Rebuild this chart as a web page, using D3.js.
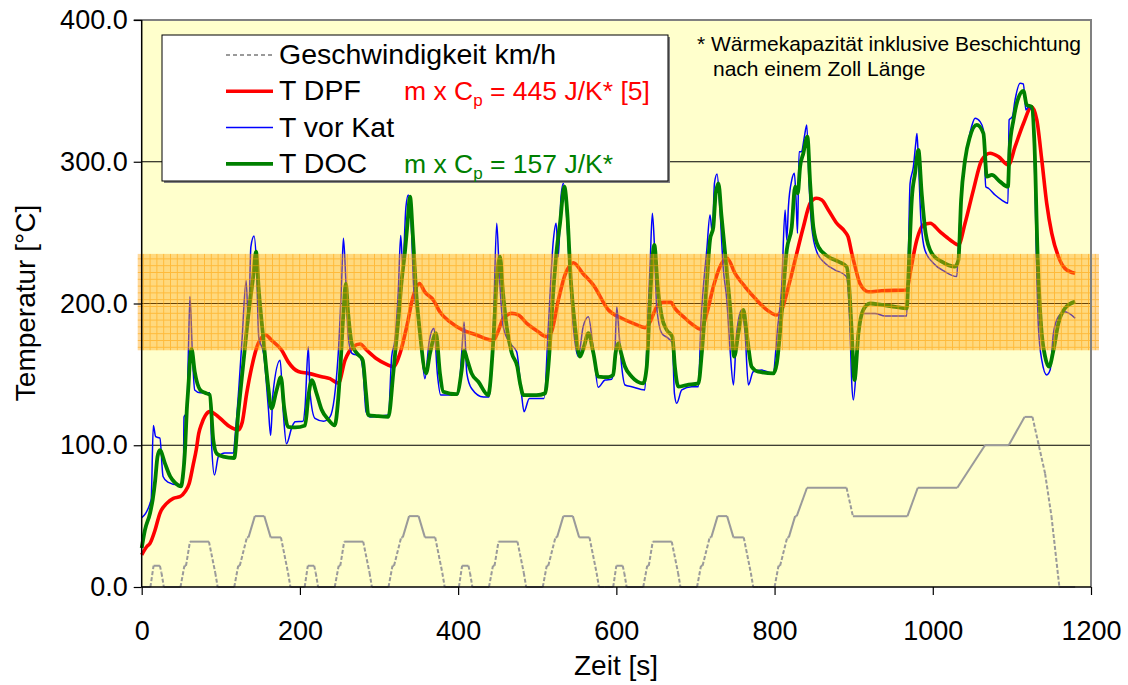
<!DOCTYPE html>
<html>
<head>
<meta charset="utf-8">
<script src="https://cdn.jsdelivr.net/npm/d3@7"></script>
<style>
  body { margin: 0; background: #fff; }
  svg text { font-family: "Liberation Sans", Arial, sans-serif; }
</style>
</head>
<body>
<svg id="chart" width="1128" height="685"></svg>
<script>
// NEDC speed profile (breakpoints) km/h
const speedTime = [0,11,15,23,25,28,49,54,56,61,85,93,96,117,122,124,133,135,143,155,163,176,185,188,
  195,206,210,218,220,223,244,249,251,256,280,288,291,312,317,319,328,330,338,350,358,371,380,383,
  390,401,405,413,415,418,439,444,446,451,475,483,486,507,512,514,523,525,533,545,553,566,575,578,
  585,596,600,608,610,613,634,639,641,646,670,678,681,702,707,709,718,720,728,740,748,761,770,773,
  780,800,805,807,816,818,826,828,841,891,899,968,981,1031,1066,1096,1116,1126,1142,1150,1160,1180];
const speedKmh = [0,0,15,15,10,0,0,15,15,32,32,10,0,0,15,15,35,35,50,50,35,35,10,0,
  0,0,15,15,10,0,0,15,15,32,32,10,0,0,15,15,35,35,50,50,35,35,10,0,
  0,0,15,15,10,0,0,15,15,32,32,10,0,0,15,15,35,35,50,50,35,35,10,0,
  0,0,15,15,10,0,0,15,15,32,32,10,0,0,15,15,35,35,50,50,35,35,10,0,
  0,0,15,15,35,35,50,50,70,70,50,50,70,70,100,100,120,120,80,50,0,0];

// T DPF [s, °C]
const tDPF = [[0,22.6],[6.3,28.4],[10.5,30.8],[16.8,40],[23,52],[31.6,59],[40,62.6],[48.4,63.7],[54.7,67.2],[60,73],[65,86],[69,97],[72,108],[76,115.5],[80,120.5],[86,123.7],[95,121],[103,117],[111.6,113],[122,110.8],[127,116],[132.7,136.6],[139,155],[147.4,172],[156.7,177.8],[164.3,174],[177,167],[185,159],[198,152],[210.6,150.7],[227.5,148.4],[238,147],[248.5,143.7],[257,160],[267.5,169.5],[276,171.4],[284.5,167],[297,161],[309.7,157],[318,155.4],[326.5,164.8],[335,183.6],[343,204.8],[351,214],[358,208],[368.6,202.5],[377,194],[389.8,187],[406.6,181],[423.5,177.8],[436,175],[444.5,174],[451,181],[457,189.5],[467.8,193],[476,192],[486.7,186],[499,181],[512,176.6],[518,180],[526.7,202.5],[535,220],[545.6,228.8],[558,221],[571,213],[590,195.4],[606.8,189.6],[623.6,185.5],[636.3,183],[642.6,187],[651,197.7],[659.4,200.8],[669,200.8],[674,196.6],[684.7,190.7],[695.3,185.5],[707,181.8],[714.3,193],[722.6,211.8],[731,226],[740,231.9],[750,221.3],[762.7,211.8],[775.3,203.7],[788,196.6],[802.8,191.9],[809,195.4],[817.5,211.8],[826,230.7],[836.4,254],[845,270.7],[853,274.2],[859.7,273],[868,266],[878.6,256.6],[889,250.7],[893,247],[897.6,235.4],[901.8,226],[908,214],[918.6,208.3],[935.6,209],[967,209.5],[971.3,221.3],[979.8,244.8],[988,255.4],[996.6,256.6],[1009,250.7],[1022,244.8],[1032.4,241.3],[1040.8,256.6],[1051.3,280],[1062,301.2],[1072.4,306],[1083,303.6],[1095.6,297.7],[1104,310.6],[1114.6,327],[1125,338.8],[1131.5,329.5],[1137.8,301.2],[1144,270.7],[1150.4,249.5],[1158.8,233],[1167,224.8],[1180,221.3]];

// T vor Kat [s, °C]
const tVorKat = [[0,49],[5,52],[10.5,59],[12,62],[14.7,114],[17.7,106],[23,105],[27,78],[33,74],[46,72],[52.6,74],[53.5,120],[57,123],[59,165],[61,205],[64,165],[67,139],[74,137],[86,137],[88.5,99],[92,79],[97,92],[105,94.5],[116,94.5],[118,106],[123,142],[127,176],[132,216],[135,184],[138,240],[142,247.6],[145,228],[148,176],[154,165],[160,127],[163,107],[166,137],[175,160],[179,123],[183,101],[190,113],[194,116.6],[204,117],[206.5,127],[210.6,169.5],[212.8,137],[219,119],[230,117],[238,120],[248.5,165],[252.8,216.6],[255,246],[258,216.6],[261,176.6],[265.5,165],[276,162.5],[280,150.7],[283.6,123.7],[288.6,120],[311.8,121.3],[316,162.5],[320,174],[324.4,209.5],[327.4,248],[330,226],[334,268],[337,276.5],[341,252],[344,209.5],[348.4,193],[354,165],[358,147],[363.6,174],[369.5,182.5],[373.7,150.7],[378,135.4],[385.6,135.4],[400,136],[404.5,165],[407.5,187],[411,150.7],[417,140],[432,134],[439,134],[444.5,183.6],[448.8,256.6],[452,221],[457,183.6],[465.6,172],[474,166],[480,136.6],[483.3,123.7],[490,133],[508.6,133],[514,183.6],[520.4,244.8],[523.8,256.6],[526.7,233],[530,275],[533,284.8],[536.4,268],[540.6,226],[545.6,183.6],[552,162.5],[558,183.6],[564.6,190.7],[571,167],[577,141],[585.7,146],[594,146.5],[597.5,155.4],[600.5,197.7],[603.4,179],[606.8,155.4],[611,142.5],[619.5,141.3],[636,139],[639.7,188.4],[642.6,226],[645.5,263.6],[648,242.5],[651,197.7],[657.4,179],[665.7,175.4],[670.8,172],[673.4,136.6],[676.3,129.6],[682.7,139],[695.3,141.3],[703.7,141.3],[707,188.4],[710,211.8],[714.3,237.7],[718.4,262.4],[721.4,249.5],[724,284.8],[727.3,291.4],[731,266],[735,226],[739.6,202.5],[743.8,167],[748,142.5],[752,179],[758.5,195.4],[762.7,179],[766.9,142.5],[773,151.9],[783.8,153],[798,150.7],[804,183.6],[809,211.8],[813.3,266],[815.4,244.8],[817.5,268.3],[821.7,287],[825,291.9],[827.2,273],[829,249.5],[831,307],[834,307],[837.7,317.7],[840.7,326],[843.6,284.8],[847,254],[853.3,236.5],[863.8,228.4],[876.5,223.6],[889,220],[891.5,218],[895.5,179],[897.6,143.7],[899.6,132],[904,160],[908,188.4],[912,193],[927,193],[939.7,191.2],[967,191.2],[969,230.7],[971.3,284.8],[975.5,296.5],[978.5,313],[980,320],[981.8,301.2],[985,259],[990,237.7],[1000.8,228.4],[1015.5,222.4],[1030.3,219],[1032.4,240],[1036.7,282.4],[1043,308.3],[1049,324.7],[1053.5,330.7],[1059.8,328.3],[1064,322.4],[1067,282.4],[1070.3,281.3],[1078.8,276.5],[1087.2,273],[1095,270.7],[1096.5,329.5],[1100.6,331.8],[1104,343.6],[1110.4,355.3],[1114.6,354.9],[1117.6,336.5],[1120.9,338.8],[1125,336.5],[1128.5,301.2],[1130.6,242.5],[1133.5,183.6],[1137.8,160],[1144,149.6],[1148.3,153],[1152.5,179],[1158.8,190.7],[1167,194.2],[1180,189.6]];

// T DOC [s, °C]
const tDOC = [[0,27.5],[4,40],[10.5,52],[14,62],[17,75],[20,92],[23,96.6],[29.5,87],[36,78],[42,73.6],[49.7,71],[52,78],[55,99],[57,125],[59,141],[61,160],[63,168],[67,152],[74,139],[80,137],[86,135.5],[90.5,103.7],[95,94],[103,92],[117,91],[122,122.6],[128.5,158],[135,193],[141,219],[144.5,236.5],[148,209.5],[154,174],[160,141],[164,126],[170.6,139],[176,148],[180,127],[185,113],[194,112.6],[206.5,114],[210.6,134],[215,146],[221,136.6],[227.5,125],[236,118],[244,114],[248,130],[250.7,150.7],[255,193],[258,214],[261,193],[265.5,172],[271.8,165],[279.4,160],[283.6,136.6],[286.5,121.3],[297,120.6],[311.8,120],[318,150.7],[324.4,188.4],[328.7,216.6],[333,237.7],[336,256.6],[339.2,275.3],[342.6,249.5],[346.8,209.5],[351.8,179],[359.4,150.7],[364.5,165],[372,179],[377,150.7],[381.3,137.8],[398,136],[404.5,153],[407.5,167],[411.6,160],[417,150.7],[425.6,144.8],[438,135.4],[444.5,174],[448.8,216.6],[453,233],[456.4,209.5],[461.4,183.6],[467.8,165],[474.8,155.4],[478.3,143.7],[482.5,135.4],[499,135.4],[509.8,136.6],[514,155.4],[520.4,209.5],[524.6,237.7],[528.8,256.6],[534.3,282.4],[538,263.6],[542.4,216.6],[547.8,183.6],[554,162.5],[559,169.5],[564.6,179],[571,165],[577,148.4],[590,148],[596,149.6],[599,165],[602.6,172],[606,165],[611,155.4],[619.5,148.4],[634,143.7],[638.4,155.4],[642.6,202.5],[648,241.3],[652.3,211.8],[657.4,190.7],[663.7,181.3],[670.8,176.6],[674,155.4],[678.4,141.3],[689,142.5],[703.7,143.7],[708,165],[714.3,214],[718.4,244.8],[722.6,254],[725.6,277.7],[729,284.8],[733,261.2],[738.3,230.7],[743.8,197.7],[749,162.5],[754.2,179],[760.5,195.4],[764.8,179],[771,155.4],[779.5,151.9],[798.5,150.7],[802.8,157.8],[809,193],[815.4,237.7],[821.7,254],[826,282.4],[829.3,277.7],[832.3,296.5],[836.4,306],[841.5,317.7],[845,284.8],[849,254],[855.4,240],[868,233],[880.7,229.5],[891,226],[894.3,211.8],[897.6,179],[901,146],[906,179],[912,195.4],[920.7,200],[935.6,199],[952.3,197.7],[967,196.6],[970,230.7],[973.4,273],[977.6,291.9],[981.8,308.3],[986,277.7],[991,249.5],[998.7,235.4],[1011.4,229.5],[1028,226],[1032.4,230.7],[1035.8,273],[1040.8,301.2],[1047,317.7],[1055.6,326],[1064,320],[1068.3,289.5],[1074.6,290.7],[1085,286],[1095,282.4],[1097,308.3],[1102,329.5],[1108,344.7],[1114.6,350],[1118.8,340],[1125,338.8],[1128.5,313],[1132.7,230.7],[1137,183.6],[1142,162.5],[1147,155.4],[1152.5,167],[1158.8,186],[1167,196.6],[1180,201.3]];

// highlighted temperature window
const bandLow = 167, bandHigh = 235;

const xTicks = [0, 200, 400, 600, 800, 1000, 1200];
const yTicks = [0, 100, 200, 300, 400];
const gridValues = [100, 200, 300];

const legendItems = ["Geschwindigkeit km/h", "T DPF", "T vor Kat", "T DOC"];

const W = 1128, H = 685;
const plot = { left: 141.7, right: 1091, top: 20, bottom: 587 };

const svg = d3.select("#chart");
const x = d3.scaleLinear().domain([0, 1200]).range([plot.left, plot.right]);
const y = d3.scaleLinear().domain([0, 400]).range([plot.bottom, plot.top]);

// pattern for the band
const defs = svg.append("defs");
const pat = defs.append("pattern").attr("id", "band").attr("patternUnits", "userSpaceOnUse")
  .attr("width", 6.8).attr("height", 6.8);
pat.append("rect").attr("width", 6.8).attr("height", 6.8).attr("fill", "rgba(255,165,20,0.42)");
pat.append("path").attr("d", "M0,0.5H6.8M0.5,0V6.8").attr("stroke", "rgba(255,160,0,0.55)").attr("stroke-width", 1);

svg.append("rect").attr("width", W).attr("height", H).attr("fill", "#fff");
svg.append("rect").attr("x", plot.left).attr("y", plot.top)
  .attr("width", plot.right - plot.left).attr("height", plot.bottom - plot.top).attr("fill", "#FFFFCC");

// gridlines
svg.selectAll(".grid").data(gridValues).enter().append("line")
  .attr("x1", plot.left).attr("x2", plot.right)
  .attr("y1", d => y(d)).attr("y2", d => y(d))
  .attr("stroke", "#000").attr("stroke-width", 1);

// speed: each breakpoint segment, dashed where steep
const speedPts = speedTime.map((t, i) => [t, speedKmh[i]]);
for (let i = 0; i < speedPts.length - 1; i++) {
  const a = speedPts[i], b = speedPts[i + 1];
  const slope = Math.abs((b[1] - a[1]) / (b[0] - a[0]));
  svg.append("line")
    .attr("x1", x(a[0])).attr("y1", y(a[1])).attr("x2", x(b[0])).attr("y2", y(b[1]))
    .attr("stroke", "#9a9a9a").attr("stroke-width", 2)
    .attr("stroke-dasharray", slope > 2.1 ? "4,2" : null);
}

const line = d3.line().x(d => x(d[0])).y(d => y(d[1])).curve(d3.curveMonotoneX);

svg.append("path").datum(tDPF).attr("d", line).attr("fill", "none")
  .attr("stroke", "#FF0000").attr("stroke-width", 3.6).attr("stroke-linejoin", "round");
svg.append("path").datum(tVorKat).attr("d", line).attr("fill", "none")
  .attr("stroke", "#0000FF").attr("stroke-width", 1.5).attr("stroke-linejoin", "round");
svg.append("path").datum(tDOC).attr("d", line).attr("fill", "none")
  .attr("stroke", "#008000").attr("stroke-width", 3.8).attr("stroke-linejoin", "round");

// band overlay
svg.append("rect").attr("x", plot.left - 4).attr("width", plot.right - plot.left + 12)
  .attr("y", y(bandHigh)).attr("height", y(bandLow) - y(bandHigh))
  .attr("fill", "url(#band)");

// frame
svg.append("line").attr("x1", plot.left - 8).attr("x2", plot.right + 1).attr("y1", plot.top).attr("y2", plot.top)
  .attr("stroke", "#808080").attr("stroke-width", 2);
svg.append("line").attr("x1", plot.right).attr("x2", plot.right).attr("y1", plot.top).attr("y2", plot.bottom)
  .attr("stroke", "#808080").attr("stroke-width", 2);

// axes
const yAxis = svg.append("g").attr("transform", "translate(" + plot.left + ",0)")
  .call(d3.axisLeft(y).tickValues(yTicks).tickSize(8).tickPadding(6).tickFormat(d3.format(".1f")));
const xAxis = svg.append("g").attr("transform", "translate(0," + plot.bottom + ")")
  .call(d3.axisBottom(x).tickValues(xTicks).tickSize(8).tickPadding(6).tickFormat(d3.format("d")));
[yAxis, xAxis].forEach(g => {
  g.select(".domain").attr("stroke", "#000").attr("stroke-width", 1.5);
  g.selectAll(".tick line").attr("stroke", "#000").attr("stroke-width", 1.2);
  g.selectAll("text").attr("font-family", "Liberation Sans, Arial, sans-serif")
    .attr("font-size", 27).attr("fill", "#000");
});
yAxis.select(".domain").attr("d", "M0," + plot.top + "V" + plot.bottom);
xAxis.select(".domain").attr("d", "M" + plot.left + ",0H" + plot.right);
xAxis.selectAll("text").attr("dy", "1.45em");

svg.append("text").attr("x", 616).attr("y", 675).attr("text-anchor", "middle")
  .attr("font-size", 28).text("Zeit [s]");
svg.append("text").attr("transform", "translate(35,303) rotate(-90)").attr("text-anchor", "middle")
  .attr("font-size", 28).text("Temperatur [°C]");

// legend
const lg = svg.append("g");
lg.append("rect").attr("x", 164).attr("y", 37).attr("width", 506).attr("height", 146).attr("fill", "#808080");
lg.append("rect").attr("x", 162).attr("y", 35).attr("width", 506).attr("height", 146)
  .attr("fill", "#fff").attr("stroke", "#000").attr("stroke-width", 1);
const legendStyle = [
  { color: "#9a9a9a", width: 2, dash: "4,3" },
  { color: "#FF0000", width: 3.6, dash: null },
  { color: "#0000FF", width: 1.5, dash: null },
  { color: "#008000", width: 3.8, dash: null }
];
legendItems.forEach((name, i) => {
  const yy = 55 + i * 36.3;
  lg.append("line").attr("x1", 226).attr("x2", 273).attr("y1", yy).attr("y2", yy)
    .attr("stroke", legendStyle[i].color).attr("stroke-width", legendStyle[i].width)
    .attr("stroke-dasharray", legendStyle[i].dash);
  lg.append("text").attr("x", 279).attr("y", yy + 9).attr("font-size", 28.5).attr("fill", "#000").text(name);
});

function cpLabel(yy, color, value) {
  const t = lg.append("text").attr("x", 404).attr("y", yy).attr("font-size", 26.5).attr("fill", color);
  t.append("tspan").text("m x C");
  t.append("tspan").attr("font-size", 17).attr("dy", 6).text("p");
  t.append("tspan").attr("dy", -6).text(value);
}
cpLabel(55 + 36.3 + 9, "#FF0000", " = 445 J/K* [5]");
cpLabel(55 + 3 * 36.3 + 9, "#008000", " = 157 J/K*");

// note
svg.append("text").attr("x", 697).attr("y", 51).attr("font-size", 21).attr("fill", "#000")
  .text("* Wärmekapazität inklusive Beschichtung");
svg.append("text").attr("x", 713).attr("y", 76).attr("font-size", 21).attr("fill", "#000")
  .text("nach einem Zoll Länge");
</script>
</body>
</html>
